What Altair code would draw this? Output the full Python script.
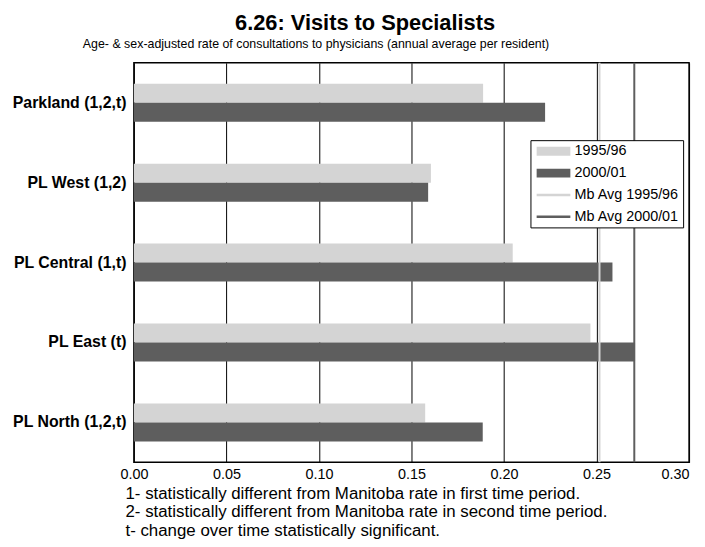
import altair as alt
import pandas as pd

regions = ["Parkland (1,2,t)", "PL West (1,2)", "PL Central (1,t)", "PL East (t)", "PL North (1,2,t)"]
periods = ["1995/96", "2000/01"]
rate_1995 = [0.1887, 0.1605, 0.2047, 0.2467, 0.1574]
rate_2000 = [0.2222, 0.1590, 0.2586, 0.2708, 0.1885]
mb_avg_labels = ["Mb Avg 1995/96", "Mb Avg 2000/01"]
mb_avg = [0.2516, 0.2704]
x_ticks = [0.0, 0.05, 0.10, 0.15, 0.20, 0.25, 0.30]
footnotes = [
    "1- statistically different from Manitoba rate in first time period.",
    "2- statistically different from Manitoba rate in second time period.",
    "t- change over time statistically significant.",
]
title_text = "6.26: Visits to Specialists"
subtitle_text = "Age- & sex-adjusted rate of consultations to physicians (annual average per resident)"

FONT = "Liberation Sans"
LIGHT = "#d4d4d4"
DARK = "#5e5e5e"
RECT = "M-1,-0.9H5.8V0.9H-1Z"
LINE = "M-1,-0.25H5.8V0.25H-1Z"

rows = []
for r, a, b in zip(regions, rate_1995, rate_2000):
    rows.append({"region": r, "period": periods[0], "series": periods[0], "rate": a})
    rows.append({"region": r, "period": periods[1], "series": periods[1], "rate": b})
bars_df = pd.DataFrame(rows)
mb_df = pd.DataFrame({"series": mb_avg_labels, "rate": mb_avg})

series_domain = periods + mb_avg_labels
color_scale = alt.Scale(domain=series_domain, range=[LIGHT, DARK, LIGHT, DARK])
shape_scale = alt.Scale(domain=series_domain, range=[RECT, RECT, LINE, LINE])

legend = alt.Legend(
    title=None,
    orient="none",
    legendX=400,
    legendY=78,
    direction="vertical",
    fillColor="white",
    strokeColor="black",
    padding=4,
    labelFont=FONT,
    labelFontSize=14.5,
    labelColor="black",
    symbolSize=100,
    symbolStrokeWidth=0,
    symbolOpacity=1,
    labelOffset=26,
    rowPadding=7,
)

x_enc = alt.X(
    "rate:Q",
    scale=alt.Scale(domain=[0, 0.3], nice=False, zero=True),
    axis=alt.Axis(
        values=x_ticks,
        format=".2f",
        ticks=False,
        domain=False,
        grid=True,
        gridColor="black",
        gridWidth=1,
        gridOpacity=1,
        labelFont=FONT,
        labelFontSize=14.5,
        labelColor="black",
        labelPadding=5,
        labelFlush=False,
        labelAlign={"condition": {"test": "datum.value >= 0.3", "value": "right"}, "value": "center"},
        title=footnotes,
        titleFont=FONT,
        titleFontSize=17,
        titleFontWeight="normal",
        titleColor="black",
        titleAnchor="start",
        titleAlign="left",
        titleBaseline="alphabetic",
        titleX=-9,
        titleY=36,
        titleLineHeight=19,
    ),
)

bars = alt.Chart(bars_df).mark_bar().encode(
    y=alt.Y(
        "region:N",
        sort=regions,
        scale=alt.Scale(paddingInner=0.525, paddingOuter=0.2625),
        axis=alt.Axis(
            ticks=False,
            domain=False,
            grid=False,
            labelFont=FONT,
            labelFontSize=16,
            labelFontWeight="bold",
            labelColor="black",
            labelPadding=8,
            title=subtitle_text,
            titleFont=FONT,
            titleFontSize=12.5,
            titleFontWeight="normal",
            titleColor="black",
            titleAngle=0,
            titleAlign="left",
            titleBaseline="alphabetic",
            titleX=-52,
            titleY=-15,
        ),
    ),
    yOffset=alt.YOffset("period:N", sort=periods),
    x=x_enc,
    color=alt.Color("series:N", scale=color_scale, legend=legend),
)

rules = alt.Chart(mb_df).mark_rule(strokeWidth=2).encode(
    x=alt.X("rate:Q"),
    color=alt.Color("series:N", scale=color_scale, legend=legend),
)

# invisible point layer that only carries the legend symbol shapes
keys = alt.Chart(mb_df).mark_point(filled=True, size=0).encode(
    x=alt.X("rate:Q"),
    color=alt.Color("series:N", scale=color_scale, legend=legend),
    shape=alt.Shape("series:N", scale=shape_scale, legend=legend),
)

chart = (
    alt.layer(bars, rules, keys)
    .properties(
        width=560,
        height=403,
        autosize=alt.AutoSizeParams(type="none"),
        padding={"left": 127, "top": 53, "right": 8, "bottom": 75},
        title=alt.TitleParams(
            title_text,
            anchor="start",
            frame="group",
            dx=102,
            font=FONT,
            fontSize=22,
            fontWeight="bold",
            color="black",
            offset=3,
        ),
    )
    .configure_view(stroke="black", strokeWidth=1.5)
)

chart.save("out.html", embed_options={"renderer": "svg", "actions": False})
